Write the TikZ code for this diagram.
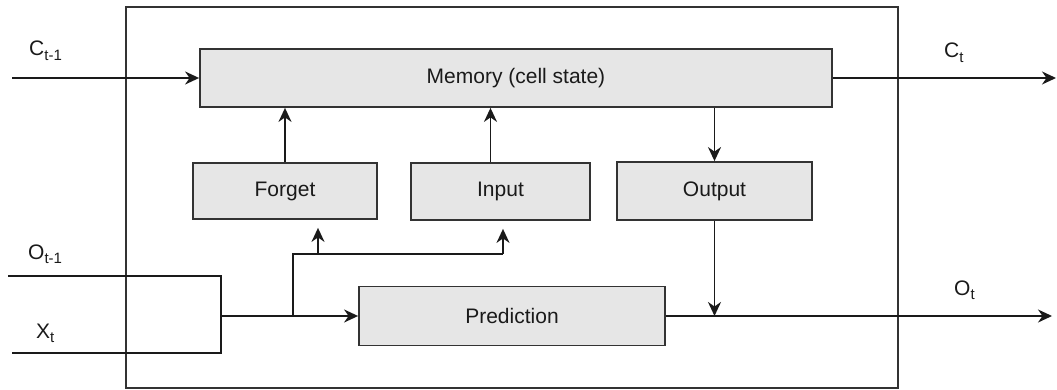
\documentclass[tikz,border=0pt]{standalone}
\usepackage{fontspec}
\setmainfont{Liberation Sans}
\usetikzlibrary{arrows.meta,calc}
\definecolor{boxfill}{HTML}{E6E6E6}
\definecolor{edge}{HTML}{333333}
\definecolor{ink}{HTML}{1A1A1A}
\newcommand{\lowsub}[1]{\raisebox{-0.45ex}{\fontsize{15}{15}\selectfont #1}}
\tikzset{
  gate/.style={draw=edge, fill=boxfill, line width=1.8pt, inner sep=0pt, text=ink, font=\fontsize{21}{25}\selectfont},
  arr/.style={-{Stealth[length=14pt,width=13pt,inset=4.5pt]}, line width=1.8pt, draw=ink},
  wire/.style={line width=1.8pt, draw=ink},
  lbl/.style={inner sep=0pt, anchor=base west, text=ink, font=\fontsize{21}{25}\selectfont}
}
\begin{document}
\begin{tikzpicture}[x=1pt,y=-1pt]
\useasboundingbox (0,0) rectangle (1057,390);
% outer cell
\node[draw=edge, line width=1.8pt, minimum width=772pt, minimum height=381pt, inner sep=0pt] (cell) at (512,197.5) {};
% boxes
\node[gate, minimum width=632pt, minimum height=58pt] (mem) at (516,78) {Memory (cell state)};
\node[gate, minimum width=184pt, minimum height=56pt] (forget) at (285,191) {Forget};
\node[gate, minimum width=179pt, minimum height=57pt] (input) at (500.5,191.5) {Input};
\node[gate, minimum width=195pt, minimum height=58pt] (output) at (714.5,191) {Output};
\node[gate, minimum width=306pt, minimum height=59pt] (pred) at (512,316) {Prediction};
% labels
\node[lbl] (lc1) at (29,56) {C\lowsub{t-1}};
\node[lbl] (lct) at (944,58) {C\lowsub{t}};
\node[lbl] (lo1) at (28,259) {O\lowsub{t-1}};
\node[lbl] (lx) at (36,338) {X\lowsub{t}};
\node[lbl] (lot) at (954,295) {O\lowsub{t}};
% coordinates
\coordinate (cin) at (12,78);
\coordinate (cout) at (1056,78);
\coordinate (oin) at (8,276);
\coordinate (xin) at (12,353);
\coordinate (join) at (221,316);
\coordinate (br) at (293,316);
\coordinate (fj) at (318,254);
\coordinate (ij) at (503,254);
\coordinate (oout) at (1052,316);
% connectors
\draw[arr] (cin) -- (mem.west);
\draw[arr] (mem.east) -- (cout);
\draw[arr] (forget.north) -- (forget.north |- mem.south);
\draw[arr] ([xshift=-10pt]input.north) -- ([xshift=-10pt]input.north |- mem.south);
\draw[arr] (mem.south -| output.north) -- (output.north);
\draw[wire] (oin) -| (join) |- (xin);
\draw[arr] (join) -- (pred.west);
\draw[wire] (br) |- (ij);
\draw[arr, shorten >=8pt] (fj) -- (fj |- forget.south);
\draw[arr, shorten >=8pt] (ij) -- (ij |- input.south);
\draw[arr] (pred.east) -- (oout);
\draw[arr] (output.south) -- (output.south |- pred.east);
\end{tikzpicture}
\end{document}
